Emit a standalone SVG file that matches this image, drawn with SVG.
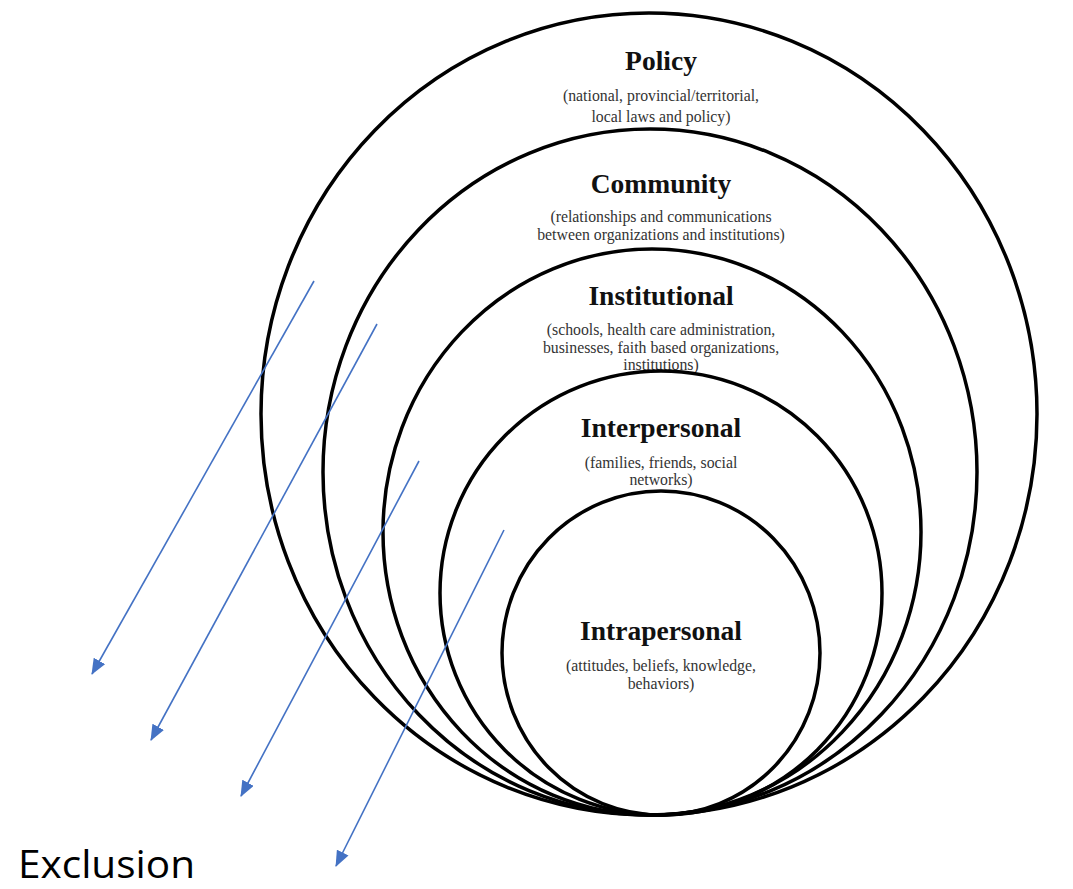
<svg xmlns="http://www.w3.org/2000/svg" width="1073" height="889" viewBox="0 0 1073 889">
<defs>
<marker id="ah" viewBox="0 0 16 13" refX="15" refY="6.5" markerWidth="16" markerHeight="13" markerUnits="userSpaceOnUse" orient="auto">
<path d="M0,0 L16,6.5 L0,13 z" fill="#4472C4"/>
</marker>
<style>
.ring{fill:none;stroke:#000;stroke-width:3.5}
.t{font-family:"Liberation Serif","Times New Roman",serif;font-weight:bold;font-size:27.5px;fill:#111;text-anchor:middle}
.s{font-family:"Liberation Serif","Times New Roman",serif;font-size:15.8px;fill:#333;text-anchor:middle}
.arr{stroke:#4472C4;stroke-width:1.6;fill:none}
</style>
</defs>
<rect width="1073" height="889" fill="#fff"/>
<g id="policy">
<ellipse class="ring" cx="649" cy="414" rx="388" ry="401"/>
<text class="t" x="661" y="70">Policy</text>
<text class="s" x="661" y="101">(national, provincial/territorial,</text>
<text class="s" x="661" y="122">local laws and policy)</text>
</g>
<g id="community">
<ellipse class="ring" cx="650" cy="472" rx="327" ry="343"/>
<text class="t" x="661" y="193">Community</text>
<text class="s" x="661" y="222">(relationships and communications</text>
<text class="s" x="661" y="240">between organizations and institutions)</text>
</g>
<g id="institutional">
<ellipse class="ring" cx="652" cy="532" rx="269" ry="283"/>
<text class="t" x="661" y="305">Institutional</text>
<text class="s" x="661" y="335">(schools, health care administration,</text>
<text class="s" x="661" y="353">businesses, faith based organizations,</text>
<text class="s" x="661" y="370">institutions)</text>
</g>
<g id="interpersonal">
<ellipse class="ring" cx="661" cy="593" rx="221" ry="222"/>
<text class="t" x="661" y="437">Interpersonal</text>
<text class="s" x="661" y="468">(families, friends, social</text>
<text class="s" x="661" y="485">networks)</text>
</g>
<g id="intrapersonal">
<ellipse class="ring" cx="661" cy="653" rx="159" ry="162"/>
<text class="t" x="661" y="640">Intrapersonal</text>
<text class="s" x="661" y="671">(attitudes, beliefs, knowledge,</text>
<text class="s" x="661" y="689">behaviors)</text>
</g>
<g id="connectors">
<line class="arr" x1="314" y1="281" x2="92" y2="674" marker-end="url(#ah)"/>
<line class="arr" x1="377" y1="324" x2="151" y2="740" marker-end="url(#ah)"/>
<line class="arr" x1="419" y1="461" x2="241" y2="796" marker-end="url(#ah)"/>
<line class="arr" x1="504" y1="530" x2="336" y2="866" marker-end="url(#ah)"/>
</g>
<g id="exclusion">
<text x="18" y="878" font-family="'Open Sans','Noto Sans',sans-serif" font-size="38" fill="#000" textLength="177" lengthAdjust="spacingAndGlyphs">Exclusion</text>
</g>
</svg>
